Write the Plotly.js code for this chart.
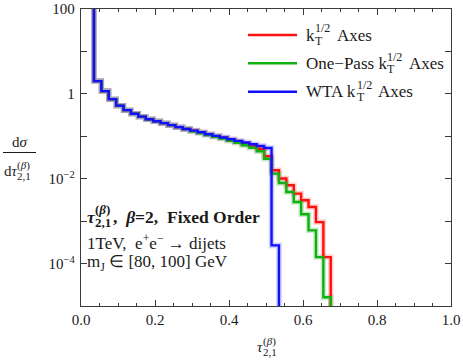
<!DOCTYPE html>
<html><head><meta charset="utf-8">
<script src="https://cdn.plot.ly/plotly-3.0.1.min.js"></script>
<style>html,body{margin:0;padding:0;background:#fff}#c{width:463px;height:362px}</style>
</head><body><div id="c"></div>
<script>
// ---- data ----
const binLeft = [0.035,0.055,0.075,0.095,0.115,0.135,0.155,0.175,0.195,0.215,0.235,0.255,0.275,
  0.295,0.315,0.335,0.355,0.375,0.395,0.415,0.435,0.455,0.475,0.495,0.515,0.535,0.555,0.575,0.595,0.615,0.635,0.655];
const binWidth = 0.02;
const kTAxes = [2.00,1.16,0.75,0.527,0.413,0.341,0.290,0.253,0.227,0.204,0.183,0.164,0.149,
  0.135,0.123,0.111,0.101,0.0925,0.0830,0.0745,0.0668,0.0600,0.0509,0.0339,0.0158,0.0101,0.0070,0.00446,0.0031,0.00215,9.5e-4,1.42e-4];
const onePassAxes = [2.00,1.16,0.75,0.527,0.413,0.341,0.290,0.253,0.227,0.204,0.183,0.164,0.149,
  0.131,0.119,0.107,0.097,0.089,0.0787,0.0705,0.0616,0.0537,0.0445,0.0296,0.0132,0.00793,0.00486,0.00282,0.00145,6.07e-4,1.42e-4,1.61e-5];
const wtaAxes = [2.00,1.16,0.75,0.527,0.413,0.341,0.290,0.253,0.227,0.204,0.183,0.164,0.149,
  0.136,0.124,0.112,0.102,0.0936,0.0853,0.0778,0.0713,0.0650,0.0590,0.0528,2.68e-4];
const seriesNames = ['k_T^1/2 Axes','One-Pass k_T^1/2 Axes','WTA k_T^1/2 Axes'];
const xTickVals = [0,0.2,0.4,0.6,0.8,1.0];
const yTickVals = [100,10,1,0.1,0.01,0.001,1e-4,1e-5];
const yTickText = ['100','','1','','10<sup>\u22122</sup>','','10<sup>\u22124</sup>',''];

// ---- styles ----
const SERIF = 'Liberation Serif, Times New Roman, serif';
const TXT = '#1a1a1a';
const AX = '#3a3a3a';
const colors = ['#ff1010','#10b010','#1010ff'];
const halos = ['rgba(255,60,60,0.25)','rgba(40,170,40,0.25)','rgba(60,60,255,0.25)'];
const OFF_HI = 1e4, OFF_LO = 1e-7; // histogram edges run off the log scale

function stepXY(vals){
  const x=[binLeft[0]], y=[OFF_HI];
  for(let i=0;i<vals.length;i++){x.push(binLeft[i]); y.push(vals[i]);}
  const end = binLeft[vals.length-1]+binWidth;
  x.push(end); y.push(vals[vals.length-1]);
  x.push(end); y.push(OFF_LO);
  return {x,y};
}
const allSeries=[kTAxes,onePassAxes,wtaAxes];
const traces=[];
allSeries.forEach((v,i)=>{const s=stepXY(v);
  traces.push({x:s.x,y:s.y,mode:'lines',line:{shape:'hv',width:5.5,color:halos[i]},hoverinfo:'skip',showlegend:false});
});
allSeries.forEach((v,i)=>{const s=stepXY(v);
  traces.push({x:s.x,y:s.y,mode:'lines',name:seriesNames[i],line:{shape:'hv',width:2.4,color:colors[i]},showlegend:false});
});

// ---- layout helpers (pixel -> paper) ----
const L=81,R=451,T=9,B=306;
const X=p=>(p-L)/(R-L), Y=p=>(B-p)/(B-T);
const cv=document.createElement('canvas').getContext('2d');
function meas(t,size,it,bd){cv.font=(it?'italic ':'')+(bd?'bold ':'')+size+"px 'Liberation Serif'";return cv.measureText(t).width;}
const anns=[], shapes=[];
function ann(px,py,text,size,anchor){anns.push({xref:'paper',yref:'paper',x:X(px),y:Y(py),text:text,showarrow:false,
  xanchor:anchor||'left',yanchor:'middle',borderpad:0,font:{family:SERIF,size:size,color:TXT}});}
// base text with stacked superscript / subscript, then rest
function stacked(px,py,fs,base,sup,sub,rest,bd){
  const sm=Math.round(fs*0.72);
  ann(px,py,base.h,fs);
  const wb=meas(base.p,fs,base.i,bd);
  ann(px+wb+0.5,py-fs*0.40,sup.h,sm);
  ann(px+wb+0.5,py+fs*0.33,sub.h,sm);
  const ws=Math.max(meas(sup.p,sm,false,bd),meas(sub.p,sm,false,bd));
  if(rest) ann(px+wb+ws+rest.gap,py,rest.h,fs);
}

// y-axis title: fraction
ann(19.5,142,'d<i>\u03c3</i>',15,'center');
shapes.push({type:'line',xref:'paper',yref:'paper',x0:X(3),x1:X(36),y0:Y(152.5),y1:Y(152.5),line:{color:TXT,width:1}});
stacked(3,171,15,{h:'d<i>\u03c4</i>',p:'d\u03c4',i:true},{h:'(<i>\u03b2</i>)',p:'(\u03b2)'},{h:'2,1',p:'2,1'},null,false);
// x-axis title
stacked(256,347,15,{h:'<i>\u03c4</i>',p:'\u03c4',i:true},{h:'(<i>\u03b2</i>)',p:'(\u03b2)'},{h:'2,1',p:'2,1'},null,false);
// in-plot annotation
stacked(86,216.5,17.5,{h:'<b><i>\u03c4</i></b>',p:'\u03c4',i:true},{h:'<b>(<i>\u03b2</i>)</b>',p:'(\u03b2)'},{h:'<b>2,1</b>',p:'2,1'},
  {h:'<b>,\u00a0 <i>\u03b2</i>=2,\u00a0 Fixed Order</b>',gap:2},true);
ann(86,241.5,'1TeV,\u00a0 e<sup>+</sup>e<sup>\u2212</sup> \u2192 dijets',17);
ann(86,262.5,'m<sub>J</sub> \u2208 [80, 100] GeV',17);

// legend
const legY=[35,63.3,91.7];
const legPre=['k','One\u2212Pass k','WTA k'];
legY.forEach((y,i)=>{
  shapes.push({type:'line',xref:'paper',yref:'paper',x0:X(248),x1:X(297),y0:Y(y),y1:Y(y),line:{color:colors[i],width:2.6}});
  stacked(305,y,17,{h:legPre[i],p:legPre[i]},{h:'1/2',p:'1/2'},{h:'T',p:'T'},{h:'Axes',gap:7},false);
});

const axCommon={showline:true,linecolor:AX,linewidth:1.3,mirror:'ticks',ticks:'inside',ticklen:6,tickwidth:1,tickcolor:AX,
  showgrid:false,zeroline:false,tickfont:{family:SERIF,size:15,color:TXT}};
const layout={
  width:463,height:362,margin:{l:L,r:463-R,t:T,b:362-B},paper_bgcolor:'#fff',plot_bgcolor:'#fff',showlegend:false,
  xaxis:Object.assign({},axCommon,{range:[0,1],tickvals:xTickVals,tickformat:'.1f',
    minor:{dtick:0.05,tick0:0,ticks:'inside',ticklen:3,tickwidth:1,tickcolor:AX,showgrid:false}}),
  yaxis:Object.assign({},axCommon,{type:'log',range:[-5,2],tickvals:yTickVals,ticktext:yTickText,ticklabelstandoff:2}),
  annotations:anns,shapes:shapes
};
Plotly.newPlot('c',traces,layout,{displayModeBar:false,staticPlot:true});
</script>
</body></html>
